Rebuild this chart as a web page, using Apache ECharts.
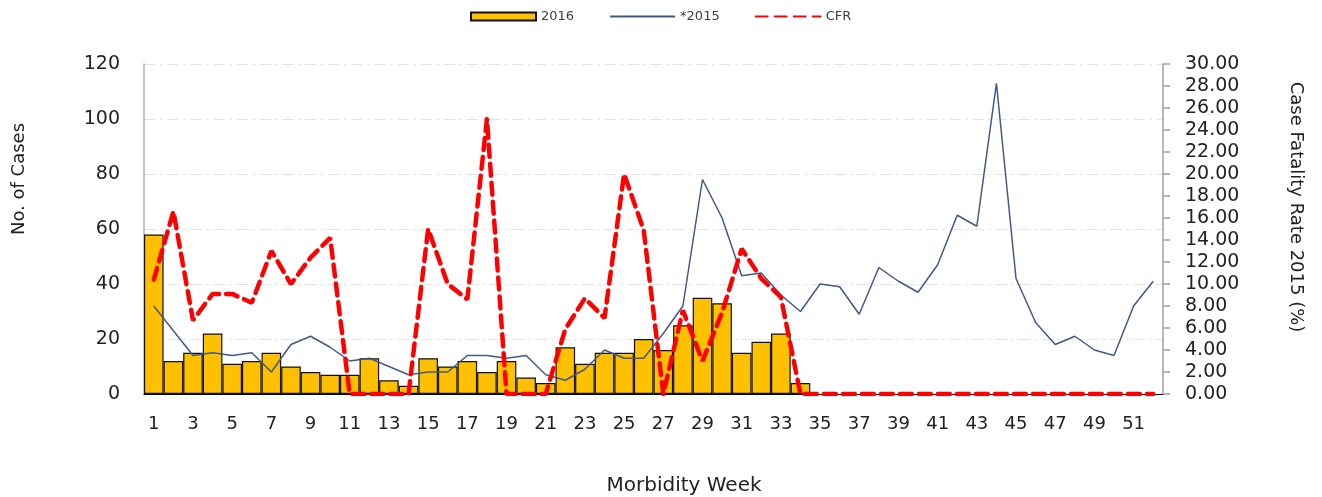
<!DOCTYPE html>
<html>
<head>
<meta charset="utf-8">
<script src="https://cdn.jsdelivr.net/npm/echarts@6/dist/echarts.min.js"></script>
<style>
html,body{margin:0;padding:0;background:#fff;}
#chart{width:1322px;height:497px;}
</style>
</head>
<body>
<div id="chart"></div>
<script>
const weeks = Array.from({length: 52}, (_, i) => String(i + 1));
const cases2016 = [58,12,15,22,11,12,15,10,8,7,7,13,5,3,13,10,12,8,12,6,4,17,11,15,15,20,16,25,35,33,15,19,22,4,
  null,null,null,null,null,null,null,null,null,null,null,null,null,null,null,null,null,null];
const cases2015 = [32,23,14,15,14,15,8,18,21,17,12,13,10,7,8,8,14,14,13,14,7,5,9,16,13,13,22,32,78,64,43,44,36,30,
  40,39,29,46,41,37,47,65,61,113,42,26,18,21,16,14,32,41];
const cfr = [10.4,16.6,6.7,9.1,9.1,8.3,13.0,10.0,12.4,14.2,0,0,0,0,15.0,10.0,8.6,25.0,0,0,0,5.9,8.7,6.9,20.0,14.9,0,7.6,3.0,7.4,13.2,10.5,8.8,0,
  0,0,0,0,0,0,0,0,0,0,0,0,0,0,0,0,0,0];
const leftTicks = {min: 0, max: 120, interval: 20};
const rightTicks = {min: 0, max: 30, interval: 2};

const FONT = 'DejaVu Sans';
const noSymbol = {color: 'rgba(0,0,0,0)', borderWidth: 0, opacity: 0};
const chart = echarts.init(document.getElementById('chart'), null, {renderer: 'canvas'});
chart.setOption({
  animation: false,
  backgroundColor: '#fff',
  textStyle: {fontFamily: FONT},
  legend: {
    left: 470, top: 10, padding: 0,
    itemWidth: 65, itemHeight: 8, itemGap: 35,
    textStyle: {fontFamily: FONT, fontSize: 13, color: '#404040'},
    data: [{name: '2016', icon: 'rect'}, {name: '*2015', itemStyle: noSymbol}, {name: 'CFR', itemStyle: noSymbol}]
  },
  grid: {left: 144, right: 159, top: 64, bottom: 103, containLabel: false},
  xAxis: {
    type: 'category', data: weeks,
    axisLine: {lineStyle: {color: '#000', width: 1}},
    axisTick: {show: false},
    axisLabel: {interval: 1, margin: 21, fontSize: 18, color: '#222', fontFamily: FONT},
    splitLine: {show: false}
  },
  yAxis: [{
    type: 'value', min: leftTicks.min, max: leftTicks.max, interval: leftTicks.interval,
    axisLine: {show: true, lineStyle: {color: '#b0b0b0', width: 1.5}},
    axisTick: {show: false},
    axisLabel: {margin: 24, fontSize: 19, color: '#222', fontFamily: FONT},
    splitLine: {show: true, lineStyle: {color: '#e4e4e4', width: 1, type: [12, 4, 3, 4]}}
  }, {
    type: 'value', min: rightTicks.min, max: rightTicks.max, interval: rightTicks.interval,
    position: 'right',
    axisLine: {show: true, lineStyle: {color: '#a0a0a0', width: 1.5}},
    axisTick: {show: true, length: 7, lineStyle: {color: '#a0a0a0', width: 1.5}},
    axisLabel: {margin: 22, fontSize: 19, color: '#222', fontFamily: FONT, formatter: v => v.toFixed(2)},
    splitLine: {show: false}
  }],
  graphic: [
    {type: 'text', rotation: Math.PI / 2,
     style: {text: 'No. of Cases', fontSize: 18, fontFamily: FONT, fill: '#222', textAlign: 'center', textVerticalAlign: 'middle'},
     x: 19, y: 179},
    {type: 'text', rotation: -Math.PI / 2,
     style: {text: 'Case Fatality Rate 2015 (%)', fontSize: 18, fontFamily: FONT, fill: '#222', textAlign: 'center', textVerticalAlign: 'middle'},
     x: 1296, y: 207},
    {type: 'text',
     style: {text: 'Morbidity Week', fontSize: 20, fontFamily: FONT, fill: '#222', textAlign: 'center', textVerticalAlign: 'middle'},
     x: 684, y: 486}
  ],
  series: [{
    name: '2016', type: 'bar', data: cases2016, yAxisIndex: 0,
    barCategoryGap: '0%',
    itemStyle: {color: '#FFC000', borderColor: '#111', borderWidth: 1.2}
  }, {
    name: '*2015', type: 'line', data: cases2015, yAxisIndex: 0,
    showSymbol: false, symbol: 'none',
    lineStyle: {color: '#41598a', width: 1.5},
    itemStyle: {color: '#41598a'}
  }, {
    name: 'CFR', type: 'line', data: cfr, yAxisIndex: 1,
    showSymbol: false, symbol: 'none',
    lineStyle: {color: '#ff0000', width: 4.5, type: [12, 7], cap: 'round'},
    itemStyle: {color: '#ff0000'}
  }]
});
</script>
</body>
</html>
